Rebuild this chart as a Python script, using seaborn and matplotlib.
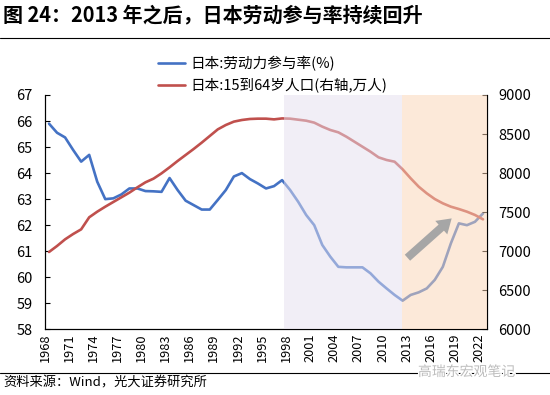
import numpy as np
import pandas as pd
import matplotlib
matplotlib.use("Agg")
import matplotlib.pyplot as plt
import matplotlib.patheffects as pe
from matplotlib.lines import Line2D
import seaborn as sns

# ---------------- data ----------------
years = list(range(1968, 2023))
lfpr = [65.9, 65.55, 65.37, 64.89, 64.44, 64.7, 63.67, 63.0, 63.03, 63.18,
        63.41, 63.41, 63.31, 63.3, 63.28, 63.81, 63.35, 62.94, 62.77, 62.6,
        62.6, 62.97, 63.35, 63.87, 64.0, 63.77, 63.6, 63.41, 63.5, 63.73,
        63.35, 62.9, 62.39, 62.0, 61.24, 60.79, 60.4, 60.38, 60.38, 60.38,
        60.15, 59.83, 59.57, 59.32, 59.1, 59.32, 59.42, 59.57, 59.9, 60.4,
        61.3, 62.07, 62.0, 62.13, 62.45]
pop = [6990, 7067, 7152, 7220, 7280, 7434, 7506, 7570, 7630, 7690,
       7750, 7818, 7882, 7929, 7997, 8074, 8155, 8232, 8309, 8390,
       8475, 8560, 8616, 8659, 8680, 8693, 8697, 8697, 8688, 8700,
       8697, 8684, 8671, 8646, 8595, 8552, 8522, 8466, 8402, 8338,
       8274, 8202, 8168, 8146, 8048, 7933, 7826, 7741, 7668, 7613,
       7570, 7540, 7506, 7464, 7408]
tick_years = years[::3]
label_lfpr = "日本:劳动力参与率(%)"
label_pop = "日本:15到64岁人口(右轴,万人)"
title = "图 24：2013 年之后，日本劳动参与率持续回升"
source = "资料来源：Wind，光大证券研究所"
watermark = "高瑞东宏观笔记"
span_purple = (1997.8, 2012.4)
span_orange = (2012.4, 2023)
arrow_from = (2013.1, 60.75)
arrow_to = (2018.6, 62.26)

df = pd.DataFrame({"year": years, "lfpr": lfpr, "pop": pop})
df["x"] = df["year"] + 0.5  # category centre

# ---------------- style ----------------
sns.set_theme(style="white")
plt.rcParams["font.family"] = ["Noto Sans CJK SC", "DejaVu Sans"]
plt.rcParams["text.color"] = "black"
plt.rcParams["axes.labelcolor"] = "black"
plt.rcParams["xtick.color"] = "black"
plt.rcParams["ytick.color"] = "black"

BLUE = "#4472C4"
RED = "#C0504D"

fig = plt.figure(figsize=(5.5, 3.95), dpi=100)
ax = fig.add_axes([0.0818, 0.1663, 0.8037, 0.5932])
ax2 = ax.twinx()

sns.lineplot(data=df, x="x", y="lfpr", ax=ax, color=BLUE, lw=1.9, zorder=2)
sns.lineplot(data=df, x="x", y="pop", ax=ax2, color=RED, lw=1.9, zorder=2)

ax.set_xlim(1968, 2023)
ax.set_ylim(58, 67)
ax.set_yticks(range(58, 68))
ax2.set_ylim(6000, 9000)
ax2.set_yticks(range(6000, 9001, 500))
ax.set_xticks(tick_years)
ax.set_xticklabels([str(y) for y in tick_years], rotation=90)
ax.set_xlabel("")
ax.set_ylabel("")
ax2.set_ylabel("")

# shading drawn over lines (semi-transparent)
ax2.axvspan(*span_purple, color="#E5DFEE", alpha=0.5, lw=0, zorder=5)
ax2.axvspan(*span_orange, color="#FBD5B5", alpha=0.5, lw=0, zorder=5)

ax2.annotate("", xy=(arrow_to[0], (arrow_to[1] - 58) / 9 * 3000 + 6000),
             xytext=(arrow_from[0], (arrow_from[1] - 58) / 9 * 3000 + 6000),
             arrowprops=dict(arrowstyle="simple,head_length=1.0,head_width=1.3,tail_width=0.58",
                             color="#A6A6A6", lw=0, shrinkA=0, shrinkB=0,
                             mutation_scale=10), zorder=6)

for a in (ax, ax2):
    for s in a.spines.values():
        s.set_color("black")
        s.set_linewidth(0.8)
    a.spines["top"].set_visible(False)
ax.tick_params(axis="y", direction="in", length=3.5, width=0.8, labelsize=10.5, pad=9)
ax.tick_params(axis="x", direction="in", length=3.5, width=0.8, labelsize=9.2, pad=3)
ax2.tick_params(axis="y", direction="in", length=3.5, width=0.8, labelsize=10.5, pad=8)

handles = [Line2D([], [], color=BLUE, lw=1.9), Line2D([], [], color=RED, lw=1.9)]
fig.legend(handles, [label_lfpr, label_pop], loc="upper left",
           bbox_to_anchor=(158 / 550, 1 - 56 / 395), frameon=False,
           fontsize=10.5, handlelength=1.85, handletextpad=0.4,
           labelspacing=0.45, borderpad=0, borderaxespad=0)

fig.text(3 / 550, 1 - 15 / 395, title, fontsize=14.4, weight="bold", va="center", ha="left")
fig.add_artist(Line2D([0, 1], [1 - 38 / 395] * 2, color="black", lw=0.8))
fig.add_artist(Line2D([0, 1], [1 - 373 / 395] * 2, color="black", lw=0.8))
fig.text(3 / 550, 1 - 383 / 395, source, fontsize=9.5, va="center", ha="left")
fig.text(418 / 550, 1 - 372 / 395, watermark, fontsize=10, color="#BDBDBD", va="center", ha="left",
         path_effects=[pe.withStroke(linewidth=2, foreground="white")])

fig.savefig("out.png", dpi=100)
